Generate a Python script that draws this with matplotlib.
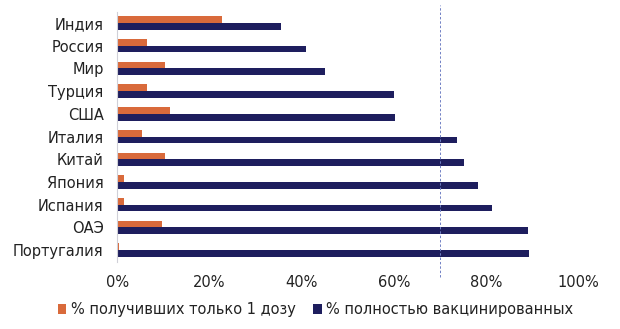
import numpy as np
import matplotlib.pyplot as plt

countries = ['Индия', 'Россия', 'Мир', 'Турция', 'США', 'Италия', 'Китай',
             'Япония', 'Испания', 'ОАЭ', 'Португалия']
one_dose = [22.7, 6.3, 10.3, 6.4, 11.4, 5.4, 10.3, 1.5, 1.5, 9.7, 0.3]
full = [35.4, 41.0, 45.0, 60.0, 60.3, 73.8, 75.2, 78.2, 81.3, 89.2, 89.4]
threshold = 70

orange = '#D96A3B'
navy = '#1E1E5E'

fig = plt.figure(figsize=(6.2, 3.29), dpi=100)
ax = fig.add_axes([0.1895, 0.205, 0.743, 0.76])

y = np.arange(len(countries))
h = 0.295
ax.barh(y - h / 2, one_dose, height=h, color=orange, label='% получивших только 1 дозу')
ax.barh(y + h / 2, full, height=h, color=navy, label='% полностью вакцинированных')

ax.set_ylim(len(countries) - 0.5, -0.5)
ax.set_xlim(0, 100)
ax.set_yticks(y)
ax.set_yticklabels(countries, fontsize=10.5, color='#222222')
ax.set_xticks(np.arange(0, 101, 20))
ax.set_xticklabels([f'{v}%' for v in range(0, 101, 20)], fontsize=10.5, color='#222222')
ax.tick_params(length=0)
ax.tick_params(axis='x', pad=10)
ax.tick_params(axis='y', pad=10)

for s in ['top', 'right', 'bottom']:
    ax.spines[s].set_visible(False)
ax.spines['left'].set_color('#D0D0D8')
ax.spines['left'].set_linewidth(0.8)

ax.axvline(threshold, ymin=-0.06, ymax=1.025, color='#7080C4', lw=0.7,
           ls=(0, (2.5, 2)), clip_on=False)

ax.legend(loc='upper center', bbox_to_anchor=(0.43, -0.11), ncol=2, frameon=False,
          fontsize=10.5, handlelength=0.6, handleheight=0.6, handletextpad=0.3,
          columnspacing=1.2, labelcolor='#222222')

fig.savefig('out.png', dpi=100)
